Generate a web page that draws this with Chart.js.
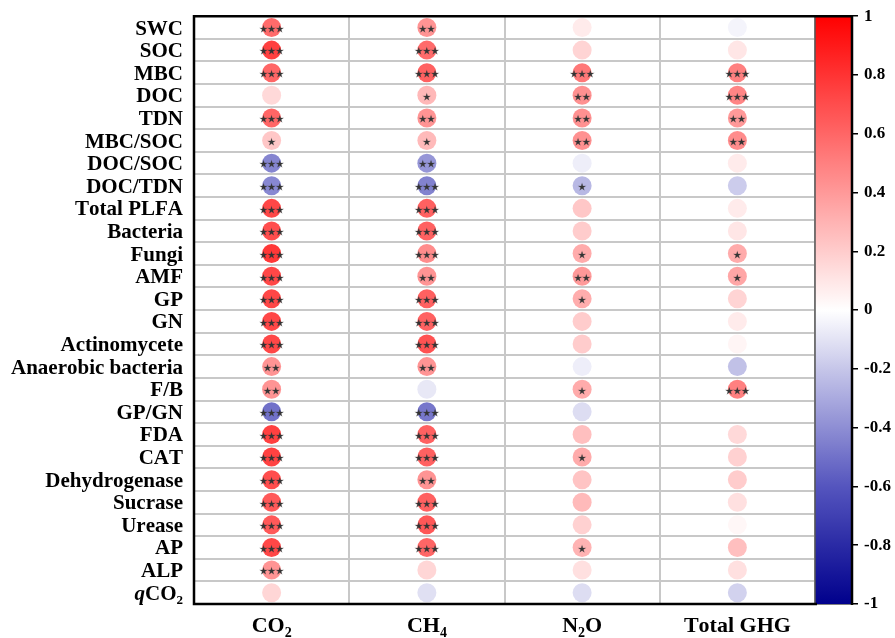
<!DOCTYPE html>
<html>
<head>
<meta charset="utf-8">
<script src="https://cdn.jsdelivr.net/npm/chart.js@4/dist/chart.umd.min.js"></script>
<style>
  html, body { margin: 0; padding: 0; background: #fff; }
  #wrap { width: 895px; height: 638px; }
</style>
</head>
<body>
<div id="wrap"><canvas id="corr-chart"></canvas></div>
<script>
// rows (y) and columns (x); "_" = subscript next char, "~" = italic next char
const rows = ['SWC', 'SOC', 'MBC', 'DOC', 'TDN', 'MBC/SOC', 'DOC/SOC', 'DOC/TDN', 'Total PLFA', 'Bacteria',
  'Fungi', 'AMF', 'GP', 'GN', 'Actinomycete', 'Anaerobic bacteria', 'F/B', 'GP/GN', 'FDA', 'CAT',
  'Dehydrogenase', 'Sucrase', 'Urease', 'AP', 'ALP', '~qCO_2'];
const cols = ['CO_2', 'CH_4', 'N_2O', 'Total GHG'];

// correlation coefficients, one array per column (same order as rows)
const co2Vals = [0.58, 0.75, 0.60, 0.15, 0.60, 0.22, -0.43, -0.42, 0.72, 0.70, 0.78, 0.72, 0.72,
  0.72, 0.72, 0.42, 0.42, -0.50, 0.75, 0.74, 0.70, 0.65, 0.65, 0.72, 0.42, 0.16];
const ch4Vals = [0.42, 0.58, 0.62, 0.28, 0.42, 0.27, -0.37, -0.44, 0.62, 0.62, 0.45, 0.42, 0.62,
  0.62, 0.68, 0.42, -0.08, -0.48, 0.62, 0.62, 0.42, 0.62, 0.66, 0.60, 0.16, -0.11];
const n2oVals = [0.08, 0.17, 0.53, 0.43, 0.43, 0.43, -0.06, -0.25, 0.22, 0.20, 0.33, 0.40, 0.32,
  0.20, 0.20, -0.06, 0.33, -0.12, 0.25, 0.33, 0.23, 0.27, 0.18, 0.30, 0.12, -0.12];
const ghgVals = [-0.04, 0.10, 0.50, 0.48, 0.40, 0.45, 0.08, -0.18, 0.08, 0.10, 0.33, 0.35, 0.17,
  0.08, 0.04, -0.22, 0.50, 0.00, 0.15, 0.18, 0.20, 0.12, 0.03, 0.25, 0.12, -0.16];

// significance marks
const co2Sig = ['***', '***', '***', '', '***', '*', '***', '***', '***', '***', '***', '***', '***',
  '***', '***', '**', '**', '***', '***', '***', '***', '***', '***', '***', '***', ''];
const ch4Sig = ['**', '***', '***', '*', '**', '*', '**', '***', '***', '***', '***', '**', '***',
  '***', '***', '**', '', '***', '***', '***', '**', '***', '***', '***', '', ''];
const n2oSig = ['', '', '***', '**', '**', '**', '', '*', '', '', '*', '**', '*',
  '', '', '', '*', '', '', '*', '', '', '', '*', '', ''];
const ghgSig = ['', '', '***', '***', '**', '**', '', '', '', '', '*', '*', '',
  '', '', '', '***', '', '', '', '', '', '', '', '', ''];

const colTicks = [1, 0.8, 0.6, 0.4, 0.2, 0, -0.2, -0.4, -0.6, -0.8, -1];

const valueCols = [co2Vals, ch4Vals, n2oVals, ghgVals];
const sigCols = [co2Sig, ch4Sig, n2oSig, ghgSig];

const serif = '"Liberation Serif", "Times New Roman", serif';

function cmap(v) {
  let r, g, b;
  if (v >= 0) {
    r = 255; g = 255 * (1 - v); b = 255 * (1 - v);
  } else {
    const f = -v;
    if (f <= 0.6) {
      const t = f / 0.6;
      r = 255 - 170 * t; g = r; b = 255 - 65 * t;
    } else {
      const t = (f - 0.6) / 0.4;
      r = 85 - 85 * t; g = r; b = 190 - 50 * t;
    }
  }
  return `rgb(${Math.round(r)},${Math.round(g)},${Math.round(b)})`;
}

const points = [];
cols.forEach((c, j) => {
  rows.forEach((r, i) => {
    points.push({ x: c, y: r, v: valueCols[j][i], s: sigCols[j][i] });
  });
});

// draws text with "_" subscript and "~" italic markers
function richText(ctx, text, x, y, align, size) {
  const segs = [];
  for (let k = 0; k < text.length; k++) {
    const ch = text[k];
    if (ch === '_') { segs.push({ t: text[++k], sub: true }); }
    else if (ch === '~') { segs.push({ t: text[++k], it: true }); }
    else segs.push({ t: ch });
  }
  const fontOf = s => (s.it ? 'italic ' : '') + 'bold ' + (s.sub ? Math.round(size * 0.62) : size) + 'px ' + serif;
  let total = 0;
  segs.forEach(s => { ctx.font = fontOf(s); s.w = ctx.measureText(s.t).width; total += s.w; });
  let cx = align === 'right' ? x - total : align === 'center' ? x - total / 2 : x;
  ctx.textBaseline = 'alphabetic';
  ctx.textAlign = 'left';
  segs.forEach(s => {
    ctx.font = fontOf(s);
    ctx.fillText(s.t, cx, y + (s.sub ? size * 0.22 : 0));
    cx += s.w;
  });
}

const decorPlugin = {
  id: 'decor',
  afterDatasetsDraw(chart) {
    const ctx = chart.ctx;
    const meta = chart.getDatasetMeta(0);
    ctx.save();
    ctx.fillStyle = '#333';
    ctx.strokeStyle = 'rgba(60,60,60,0.5)';
    ctx.lineWidth = 0.6;
    ctx.font = '9px "DejaVu Sans", sans-serif';
    ctx.textAlign = 'center';
    ctx.textBaseline = 'middle';
    meta.data.forEach((pt, k) => {
      const s = points[k].s;
      if (!s) return;
      const stars = s.replace(/\*/g, '\u2605');
      ctx.fillText(stars, pt.x, pt.y + 2);
      ctx.strokeText(stars, pt.x, pt.y + 2);
    });
    ctx.restore();
  },
  afterDraw(chart) {
    const ctx = chart.ctx;
    const a = chart.chartArea;
    const xs = chart.scales.x, ys = chart.scales.y;
    ctx.save();
    // colour bar
    const barL = a.right, barR = a.right + 37;
    const grad = ctx.createLinearGradient(0, a.top, 0, a.bottom);
    for (let k = 0; k <= 40; k++) grad.addColorStop(k / 40, cmap(1 - k / 20));
    ctx.fillStyle = grad;
    ctx.fillRect(barL, a.top, barR - barL, a.bottom - a.top);
    ctx.strokeStyle = '#555';
    ctx.lineWidth = 1.5;
    ctx.beginPath(); ctx.moveTo(barL, a.top); ctx.lineTo(barL, a.bottom); ctx.stroke();
    ctx.strokeStyle = '#000';
    ctx.lineWidth = 2.5;
    ctx.beginPath(); ctx.moveTo(barR, a.top - 1); ctx.lineTo(barR, a.bottom + 1); ctx.stroke();
    // plot frame
    ctx.beginPath();
    ctx.moveTo(barR, a.top); ctx.lineTo(a.left, a.top); ctx.lineTo(a.left, a.bottom); ctx.lineTo(a.right + 2, a.bottom);
    ctx.stroke();
    // axis labels
    ctx.fillStyle = '#000';
    rows.forEach((r, i) => richText(ctx, r, a.left - 11, ys.getPixelForValue(i) + 7, 'right', 21));
    cols.forEach((c, j) => richText(ctx, c, xs.getPixelForValue(j), a.bottom + 28, 'center', 22));
    ctx.restore();
  }
};

const ctx = document.getElementById('corr-chart').getContext('2d');
new Chart(ctx, {
  type: 'scatter',
  data: {
    datasets: [{
      data: points,
      pointRadius: 9.5,
      pointHoverRadius: 9.5,
      borderWidth: 0,
      backgroundColor: c => cmap(c.raw ? c.raw.v : 0)
    }]
  },
  options: {
    responsive: true,
    maintainAspectRatio: false,
    animation: false,
    events: [],
    layout: { padding: { top: 15, left: 0, right: 0, bottom: 0 } },
    plugins: { legend: { display: false }, tooltip: { enabled: false } },
    scales: {
      x: {
        type: 'category',
        labels: cols,
        offset: true,
        grid: { offset: true, color: '#c8c8c8', lineWidth: 2, drawTicks: false },
        border: { display: false },
        ticks: { display: false },
        afterFit: s => { s.height = 34; }
      },
      y: {
        type: 'category',
        labels: rows,
        offset: true,
        grid: { offset: true, color: '#c8c8c8', lineWidth: 2, drawTicks: false },
        border: { display: false },
        ticks: { display: false },
        afterFit: s => { s.width = 194; }
      },
      cb: {
        type: 'linear',
        position: 'right',
        min: -1,
        max: 1,
        afterBuildTicks: s => { s.ticks = colTicks.map(v => ({ value: v })); },
        grid: { drawOnChartArea: false, color: '#000', lineWidth: 1.5, tickLength: 43 },
        border: { display: false },
        ticks: {
          color: '#000',
          padding: 6,
          font: { family: serif, size: 17, weight: 'bold' },
          callback: v => String(Number(v.toFixed(1)))
        },
        afterFit: s => { s.width = 80; }
      }
    }
  },
  plugins: [decorPlugin]
});
</script>
</body>
</html>
